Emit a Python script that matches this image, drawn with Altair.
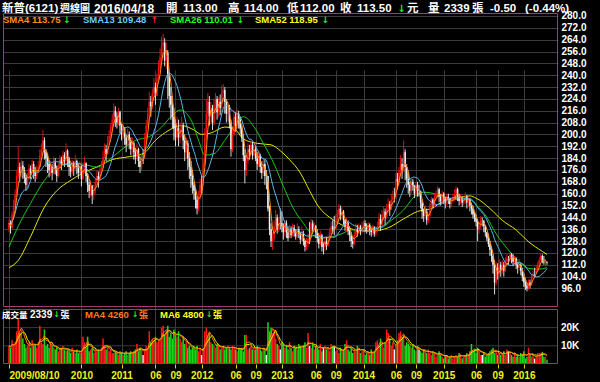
import altair as alt
import pandas as pd

# ---------------- data ----------------
FIRST_OPEN = 136
CLOSE = [
    140, 137, 146, 152, 160, 172, 178, 174, 179, 176,
    171, 166, 170, 177, 174, 180, 175, 172, 176, 178,
    186, 190, 196, 188, 184, 180, 176, 178, 174, 181,
    177, 172, 178, 183, 180, 186, 182, 189, 184, 178,
    175, 180, 177, 182, 178, 174, 179, 170, 176, 181,
    172, 166, 162, 165, 159, 162, 168, 172, 170, 175,
    178, 185, 190, 187, 195, 199, 205, 210, 216, 212,
    208, 215, 206, 200, 204, 198, 193, 200, 196, 190,
    194, 188, 185, 190, 182, 178, 184, 184, 198, 206,
    214, 222, 219, 228, 232, 226, 238, 245, 252, 260,
    262, 250, 255, 240, 226, 220, 212, 204, 198, 204,
    198, 204, 206, 196, 188, 194, 184, 178, 172, 166,
    162, 156, 150, 158, 166, 166, 180, 198, 214, 222,
    212, 218, 208, 220, 224, 215, 222, 218, 228, 230,
    222, 214, 218, 208, 190, 200, 212, 206, 214, 210,
    204, 198, 186, 176, 182, 190, 188, 193, 186, 190,
    184, 180, 186, 178, 174, 180, 172, 172, 150, 136,
    128, 130, 138, 144, 136, 140, 140, 138, 134, 140,
    134, 130, 136, 132, 137, 134, 131, 136, 133, 129,
    133, 128, 124, 126, 130, 130, 140, 136, 138, 134,
    130, 126, 132, 124, 124, 128, 125, 130, 134, 138,
    136, 136, 140, 146, 150, 145, 148, 142, 138, 140,
    135, 132, 128, 126, 132, 136, 134, 138, 135, 137,
    140, 138, 136, 139, 135, 134, 137, 133, 135, 138,
    143, 139, 146, 148, 144, 150, 153, 149, 156, 158,
    158, 170, 168, 175, 180, 176, 188, 178, 170, 166,
    162, 168, 165, 160, 166, 162, 162, 154, 148, 145,
    148, 142, 145, 152, 156, 153, 158, 160, 163, 158,
    155, 160, 157, 154, 158, 156, 153, 155, 158, 160,
    163, 158, 155, 157, 154, 156, 158, 154, 156, 152,
    150, 146, 144, 141, 136, 138, 142, 142, 138, 134,
    130, 126, 122, 118, 112, 100, 110, 106, 112, 108,
    112, 108, 114, 116, 116, 119, 117, 114, 116, 112,
    110, 112, 108, 104, 100, 98, 96, 100, 98, 104,
    106, 106, 108, 112, 115, 118, 114, 113.5, 114, 113.5,
]
HIGH = [
    143, 142, 148, 156, 163, 176, 192, 181, 183, 182,
    178, 173, 174, 180, 179, 183, 182, 178, 179, 182,
    190, 194, 203, 198, 190, 187, 183, 181, 180, 185,
    184, 179, 181, 186, 185, 189, 188, 194, 190, 185,
    180, 183, 182, 186, 183, 180, 182, 178, 179, 185,
    180, 174, 168, 169, 166, 166, 170, 176, 175, 178,
    182, 189, 194, 193, 199, 203, 208, 214, 221, 219,
    215, 218, 216, 207, 208, 205, 200, 204, 202, 198,
    198, 195, 191, 194, 191, 185, 187, 190, 201, 210,
    218, 229, 226, 231, 238, 235, 241, 250, 258, 266,
    268, 265, 262, 257, 242, 232, 226, 218, 210, 212,
    210, 208, 212, 208, 200, 198, 196, 188, 182, 176,
    168, 164, 158, 162, 170, 172, 184, 204, 224, 228,
    226, 222, 220, 224, 228, 226, 225, 227, 233, 234,
    232, 224, 222, 220, 210, 205, 216, 215, 217, 216,
    212, 206, 200, 190, 186, 194, 193, 196, 195, 194,
    192, 188, 189, 187, 182, 184, 183, 176, 172, 152,
    140, 134, 142, 149, 146, 144, 150, 148, 140, 142,
    142, 138, 139, 138, 140, 139, 136, 140, 138, 134,
    138, 135, 129, 130, 133, 141, 143, 142, 141, 139,
    136, 133, 135, 133, 127, 131, 131, 132, 137, 141,
    142, 145, 146, 149, 153, 152, 151, 149, 143, 144,
    142, 138, 134, 131, 135, 140, 139, 140, 139, 141,
    142, 142, 140, 141, 140, 137, 139, 138, 137, 141,
    147, 146, 149, 151, 150, 153, 157, 155, 160, 162,
    164, 174, 174, 178, 186, 184, 196, 190, 180, 174,
    168, 170, 170, 166, 168, 168, 166, 162, 156, 150,
    152, 150, 147, 154, 158, 157, 160, 162, 165, 164,
    160, 162, 161, 158, 160, 160, 157, 157, 160, 163,
    165, 164, 160, 160, 158, 158, 161, 159, 158, 157,
    154, 152, 148, 146, 143, 141, 145, 144, 141, 139,
    134, 133, 128, 124, 119, 115, 114, 113, 116, 114,
    115, 114, 117, 119, 118, 120, 120, 119, 118, 117,
    114, 116, 113, 110, 106, 103, 100, 102, 102, 106,
    108, 110, 112, 114, 117, 120, 119, 118, 116, 114,
]
LOW = [
    134, 133, 136, 145, 150, 158, 170, 168, 171, 170,
    167, 162, 164, 169, 170, 173, 170, 168, 170, 174,
    178, 184, 187, 183, 178, 174, 171, 172, 169, 173,
    173, 168, 171, 177, 176, 179, 178, 180, 178, 172,
    171, 173, 172, 176, 173, 170, 172, 165, 169, 174,
    168, 161, 157, 158, 153, 156, 160, 166, 164, 169,
    172, 177, 184, 182, 186, 194, 197, 203, 208, 205,
    204, 206, 201, 196, 197, 193, 188, 192, 190, 186,
    187, 183, 180, 183, 178, 174, 176, 180, 184, 196,
    205, 212, 212, 217, 225, 220, 226, 237, 242, 250,
    252, 246, 244, 224, 218, 210, 204, 196, 192, 196,
    192, 194, 198, 190, 182, 184, 176, 170, 164, 160,
    156, 150, 146, 148, 156, 160, 165, 179, 196, 210,
    206, 208, 203, 206, 214, 210, 212, 213, 215, 222,
    214, 208, 209, 204, 185, 188, 199, 202, 204, 204,
    200, 195, 182, 167, 172, 180, 183, 186, 183, 185,
    182, 176, 178, 174, 170, 172, 166, 163, 148, 132,
    124, 122, 128, 135, 133, 134, 136, 134, 129, 131,
    130, 128, 130, 130, 131, 131, 129, 130, 130, 126,
    128, 125, 121, 122, 124, 126, 130, 133, 134, 130,
    127, 123, 125, 121, 119, 121, 122, 124, 128, 132,
    133, 132, 137, 139, 143, 142, 143, 139, 135, 134,
    132, 128, 124, 123, 125, 131, 131, 133, 132, 133,
    135, 134, 133, 134, 132, 131, 132, 131, 131, 134,
    137, 135, 138, 142, 139, 143, 147, 145, 149, 152,
    154, 158, 163, 166, 172, 170, 175, 169, 164, 160,
    158, 160, 162, 157, 159, 158, 158, 150, 143, 141,
    143, 139, 140, 144, 150, 150, 151, 155, 157, 154,
    152, 153, 153, 150, 152, 153, 150, 151, 154, 155,
    157, 155, 152, 153, 151, 152, 153, 150, 151, 148,
    146, 143, 141, 138, 128, 133, 136, 138, 134, 131,
    128, 124, 118, 114, 106, 92, 98, 102, 104, 104,
    106, 104, 107, 112, 112, 114, 113, 111, 112, 109,
    106, 108, 105, 101, 97, 95, 94, 95, 96, 98,
    102, 104, 106, 108, 111, 114, 113, 112, 111, 112,
]
VOLUME_K = [
    10, 9, 13, 10, 12, 18, 25, 17, 19, 14,
    11, 9, 10, 12, 9, 13, 10, 11, 9, 12,
    21, 12, 11, 19, 10, 11, 9, 12, 10, 9,
    8, 9, 7, 8, 9, 10, 8, 7, 8, 7,
    6, 9, 7, 6, 8, 6, 7, 6, 15, 12,
    9, 15, 7, 8, 9, 6, 8, 7, 8, 7,
    9, 14, 10, 8, 9, 7, 8, 6, 6, 7,
    6, 5, 7, 6, 5, 6, 7, 5, 6, 7,
    6, 7, 8, 11, 7, 9, 8, 5, 8, 10,
    9, 18, 12, 14, 13, 15, 12, 13, 14, 20,
    21, 16, 18, 21, 15, 17, 14, 19, 16, 15,
    18, 14, 12, 15, 11, 12, 9, 10, 8, 9,
    9, 8, 10, 7, 9, 5, 8, 18, 20, 16,
    17, 12, 11, 10, 9, 11, 10, 8, 9, 10,
    8, 9, 10, 9, 8, 10, 9, 8, 7, 9,
    8, 9, 7, 16, 16, 8, 9, 10, 8, 9,
    8, 10, 9, 8, 7, 9, 8, 5, 23, 18,
    20, 17, 19, 14, 11, 10, 8, 12, 11, 9,
    10, 8, 12, 9, 7, 10, 9, 8, 11, 10,
    9, 10, 12, 9, 17, 10, 9, 11, 8, 10,
    9, 8, 11, 7, 9, 10, 8, 9, 7, 11,
    10, 10, 7, 8, 6, 9, 7, 8, 11, 13,
    8, 7, 9, 6, 8, 7, 10, 9, 6, 7,
    8, 5, 6, 7, 5, 8, 6, 7, 12, 13,
    10, 14, 11, 9, 12, 19, 17, 14, 10, 12,
    8, 11, 13, 17, 18, 15, 16, 10, 12, 11,
    10, 9, 11, 8, 7, 10, 8, 7, 6, 8,
    7, 6, 8, 6, 5, 7, 6, 4, 5, 7,
    5, 4, 3, 4, 5, 3, 4, 5, 3, 4,
    5, 4, 6, 5, 3, 4, 5, 6, 5, 7,
    11, 7, 8, 6, 9, 7, 5, 5, 6, 4,
    5, 6, 7, 8, 9, 6, 7, 5, 6, 5,
    6, 7, 5, 8, 7, 6, 5, 4, 6, 4,
    5, 4, 6, 5, 7, 3, 4, 9, 5, 4,
    5, 3, 4, 6, 6, 5.76, 6.7, 4, 4, 2.339,
]
SMA26_WEEK = [0, 6, 14, 23, 31, 40, 48, 57, 65, 74, 82, 91, 99, 106, 111, 118, 123,
              127, 133, 140, 146, 152, 159, 165, 172, 178, 184, 191, 197, 203, 210,
              216, 222, 229, 235, 241, 248, 256, 263, 269, 276, 282, 290, 299, 303,
              310, 316, 324, 331, 337, 343, 349]
SMA26_VALUE = [124, 138, 153.5, 169, 178, 180.5, 180, 178, 183, 190.5, 196, 198.5,
               205, 213, 216.5, 210, 196, 186, 187, 196, 205, 212, 205, 194, 180,
               165, 151, 140, 132, 130, 131, 133, 135.5, 135.5, 137.5, 137, 142,
               149, 158, 161, 160, 158, 156, 155.8, 152.5, 144, 133, 122, 114,
               109.6, 109, 110]
SMA52_WEEK = [0, 6, 14, 23, 31, 40, 48, 57, 67, 78, 87, 95, 104, 112, 120, 125, 131,
              140, 146, 152, 161, 170, 176, 182, 189, 195, 201, 208, 214, 220, 229,
              237, 246, 256, 265, 274, 282, 290, 299, 303, 312, 320, 329, 337, 346,
              349]
SMA52_VALUE = [110, 115, 131, 151, 162, 169, 174, 178, 183, 185, 187, 196, 203, 206,
               203, 200, 201, 205, 204, 197, 194, 193, 189, 183, 174, 162, 151, 144,
               140, 137, 135, 135, 137, 143, 148, 150, 155, 157, 158.5, 157, 150,
               142, 135.5, 127.6, 121, 119]

TICK_WEEK = [0, 47, 73, 95, 108, 125, 147, 160, 177, 199, 212, 230, 251, 264, 282, 303, 317, 334]
TICK_LABEL = ["2009/08/10", "2010", "2011", "06", "09", "2012", "06", "09", "2013",
              "06", "09", "2014", "06", "09", "2015", "06", "09", "2016"]
PRICE_TICKS = list(range(96, 281, 8))
VOL_TICKS = [10, 20]

# ---------------- frames ----------------
n = len(CLOSE)
OPEN = [FIRST_OPEN] + CLOSE[:-1]
df = pd.DataFrame({"i": list(range(n)), "open": OPEN, "close": CLOSE,
                   "high": HIGH, "low": LOW, "vol": VOLUME_K})
df["cdir"] = ["c_up" if c > o else "c_down" for o, c in zip(OPEN, CLOSE)]
df["vdir"] = ["v_up" if c > o else ("v_down" if c < o else "v_flat") for o, c in zip(OPEN, CLOSE)]
sma26 = pd.DataFrame({"i": SMA26_WEEK, "v": SMA26_VALUE})
sma52 = pd.DataFrame({"i": SMA52_WEEK, "v": SMA52_VALUE})
vticks = pd.DataFrame({"v": VOL_TICKS})
one = pd.DataFrame({"k": [0]})

# ---------------- styles ----------------
W, H = 555, 351
FONT = "Liberation Sans, Noto Sans CJK TC, DejaVu Sans"
CJK = "Noto Sans CJK TC, Liberation Sans"
ARWFONT = "DejaVu Sans"
GRID = "#3c3c3c"
RED, WHITE = "#f01010", "#f4f4f4"
ORANGE, BLUE, LGREEN, YELLOW = "#ff8c1a", "#5ab8e6", "#18c818", "#e6e600"

label_expr = ""
for w, t in zip(TICK_WEEK, TICK_LABEL):
    label_expr += f"datum.value == {w} ? '{t}' : "
label_expr += "''"

xs = alt.Scale(domain=[-0.64, 352.9], nice=False, zero=False)
xaxis = alt.Axis(values=TICK_WEEK, labelExpr=label_expr, title=None, grid=True,
                 gridColor=GRID, gridWidth=1, domain=False, ticks=True,
                 tickColor="#d8d800", tickSize=4, labelColor="#f0f020",
                 labelFont=FONT, labelFontSize=10, labelFontWeight="bold",
                 labelPadding=2, labelOverlap=False,
                 labelAlign={"condition": {"test": f"datum.value == {TICK_WEEK[0]}",
                                           "value": "left"}, "value": "center"})
ys = alt.Scale(domain=[83.5, 282], range=[294, 0], nice=False, zero=False)
yaxis = alt.Axis(orient="right", values=PRICE_TICKS, format=".1f", title=None,
                 grid=True, gridColor=GRID, gridWidth=1, domain=False, ticks=False,
                 labelColor="white", labelFont=FONT, labelFontSize=10,
                 labelFontWeight="bold", labelPadding=3, labelOverlap=False)
vs = alt.Scale(domain=[0, 29.7], range=[351, 297], nice=False, zero=True)
cscale = alt.Scale(domain=["c_up", "c_down", "v_up", "v_down", "v_flat"],
                   range=[RED, WHITE, "#ff1a1a", "#19d919", "#f4f4f4"])


def X():
    return alt.X("i:Q", scale=xs, axis=xaxis)


def PY(field):
    return alt.Y(field, type="quantitative", scale=ys, axis=yaxis)


def VY(field):
    return alt.Y(field, type="quantitative", scale=vs, axis=None)


base = alt.Chart(df)
wick = base.mark_rule(strokeWidth=0.9).encode(
    x=X(), y=PY("low"), y2="high:Q",
    color=alt.Color("cdir:N", scale=cscale, legend=None))
body = base.mark_bar(size=1.5).encode(
    x=X(), y=PY("open"), y2="close:Q",
    color=alt.Color("cdir:N", scale=cscale, legend=None))
s4 = base.transform_window(s4="mean(close)", frame=[-3, 0], sort=[alt.SortField("i")]) \
    .mark_line(color=ORANGE, strokeWidth=1).encode(x=X(), y=PY("s4"))
s13 = base.transform_window(s13="mean(close)", frame=[-12, 0], sort=[alt.SortField("i")]) \
    .mark_line(color=BLUE, strokeWidth=1).encode(x=X(), y=PY("s13"))
s26 = alt.Chart(sma26).mark_line(color=LGREEN, strokeWidth=1, interpolate="monotone") \
    .encode(x=X(), y=PY("v"))
s52 = alt.Chart(sma52).mark_line(color=YELLOW, strokeWidth=1, interpolate="monotone") \
    .encode(x=X(), y=PY("v"))
price = alt.layer(s52, s26, wick, body, s13, s4)

vgrid = alt.Chart(vticks).mark_rule(color=GRID, strokeWidth=1).encode(
    y=VY("v"), x=alt.value(0), x2=alt.value(W))
vbar = base.mark_bar(size=1.5).encode(
    x=X(), y=VY("vol"), color=alt.Color("vdir:N", scale=cscale, legend=None))
vm4 = base.transform_window(m4="mean(vol)", frame=[-3, 0], sort=[alt.SortField("i")]) \
    .mark_line(color="#ff7a00", strokeWidth=1).encode(x=X(), y=VY("m4"))
vm6 = base.transform_window(m6="mean(vol)", frame=[-5, 0], sort=[alt.SortField("i")]) \
    .mark_line(color="#f0f000", strokeWidth=1).encode(x=X(), y=VY("m6"))
vlab = alt.Chart(vticks).transform_calculate(
    lab="datum.v + 'K'").mark_text(
    align="left", baseline="middle", color="white", font=FONT, fontSize=10,
    fontWeight="bold").encode(x=alt.value(558), y=VY("v"), text="lab:N")
volume = alt.layer(vgrid, vbar, vm6, vm4, vlab)


def txt(t, x, y, color="white", size=10, font=FONT, align="left"):
    return alt.Chart(one).mark_text(
        text=t, align=align, baseline="middle", color=color, font=font,
        fontSize=size, fontWeight="bold").encode(x=alt.value(x), y=alt.value(y))


def arrow(t, x, y, color="#22ee22", size=9):
    return txt(t, x, y, color=color, size=size, font=ARWFONT, align="center")


def border(y0, y1, color):
    return alt.Chart(one).mark_rect(fillOpacity=0, stroke=color, strokeWidth=1).encode(
        x=alt.value(0.5), x2=alt.value(W - 0.5), y=alt.value(y0), y2=alt.value(y1))


ty = -4.5
T = 11.5
texts = [
    txt("新普", -1, ty, size=T, font=CJK),
    txt("(6121)", 22, ty, size=T),
    txt("週線圖", 57, ty, size=10, font=CJK),
    txt("2016/04/18", 91, ty, size=12),
    txt("開", 163, ty, size=T, font=CJK),
    txt("113.00", 180, ty, size=T),
    txt("高", 225, ty, size=T, font=CJK),
    txt("114.00", 241, ty, size=T),
    txt("低", 284, ty, size=T, font=CJK),
    txt("112.00", 297, ty, size=T),
    txt("收", 337, ty, size=T, font=CJK),
    txt("113.50", 354, ty, size=T),
    arrow("↓", 398.5, ty, size=10),
    txt("元", 404, ty, size=T, font=CJK),
    txt("量", 425, ty, size=T, font=CJK),
    txt("2339", 441, ty, size=T),
    txt("張", 469, ty, size=T, font=CJK),
    txt("-0.50", 487, ty, size=T),
    txt("(-0.44%)", 522, ty, size=T),
    # price legend
    txt("SMA4 113.75", 0, 7, color=ORANGE, size=9.5),
    arrow("↓", 64, 7),
    txt("SMA13 109.48", 80, 7, color="#66ccff", size=9.5),
    arrow("↑", 151.5, 7, color="#ff2020"),
    txt("SMA26 110.01", 167, 7, color="#22ff22", size=9.5),
    arrow("↓", 237.5, 7),
    txt("SMA52 118.95", 252, 7, color="#ffff22", size=9.5),
    arrow("↓", 322.5, 7),
    # volume legend
    txt("成交量", -1, 302, size=8.5, font=CJK),
    txt("2339", 27, 302),
    arrow("↓", 53.5, 302, size=8),
    txt("張", 57.5, 302, size=9, font=CJK),
    txt("MA4 4260", 82, 302, color="#ff7a1a", size=9.5),
    arrow("↓", 132, 302, size=8),
    txt("張", 136, 302, color="#ff7a1a", size=9, font=CJK),
    txt("MA6 4800", 157, 302, color="#ffff22", size=9.5),
    arrow("↓", 206, 302, size=8),
    txt("張", 210, 302, color="#ffff22", size=9, font=CJK),
]

chart = alt.layer(
    price, volume,
    border(0.5, 293.5, "#a8387c"),
    border(296.5, 350.5, "#5a5a5a"),
    *texts,
).resolve_scale(y="independent").properties(
    width=W, height=H,
    padding={"left": 3, "top": 13, "right": 42, "bottom": 18},
    autosize=alt.AutoSizeParams(type="none"),
    background="#000000",
).configure_view(strokeWidth=0, fill="#000000")

chart.save("out.html", embed_options={"renderer": "svg", "actions": False})
